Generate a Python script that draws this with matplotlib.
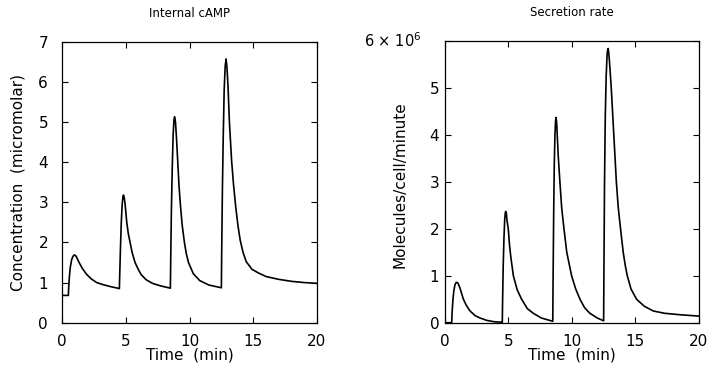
import numpy as np
import matplotlib
matplotlib.use("Agg")
import matplotlib.pyplot as plt

plt.rcParams['font.family'] = ['DejaVu Sans']

# internal cAMP (micromolar)
t_camp = [0, 0.5, 0.52, 0.58, 0.65, 0.75, 0.85, 0.97, 1.1, 1.34, 1.6, 1.94, 2.3, 2.72, 3.2, 3.8, 4.5,
          4.52, 4.58, 4.65, 4.72, 4.78, 4.82, 4.88, 4.95, 5.08, 5.2, 5.34, 5.5, 5.73, 5.95, 6.2, 6.6, 7.1, 7.7, 8.5,
          8.52, 8.58, 8.65, 8.72, 8.78, 8.83, 8.9, 8.98, 9.08, 9.17, 9.27, 9.42, 9.6, 9.75, 9.92, 10.3, 10.8, 11.5, 12.5,
          12.52, 12.58, 12.65, 12.72, 12.8, 12.87, 12.94, 13.02, 13.13, 13.3, 13.45, 13.62, 13.8, 13.98, 14.2, 14.45,
          14.9, 15.4, 16, 17, 18, 19, 20]
camp = [0.68, 0.68, 0.85, 1.15, 1.38, 1.56, 1.65, 1.69, 1.66, 1.5, 1.35, 1.2, 1.09, 1.0, 0.95, 0.9, 0.85,
        1.1, 1.8, 2.5, 2.95, 3.13, 3.18, 3.12, 2.95, 2.5, 2.22, 2.0, 1.75, 1.5, 1.35, 1.2, 1.07, 0.98, 0.92, 0.86,
        1.4, 2.8, 3.9, 4.7, 5.05, 5.13, 5.0, 4.6, 4.0, 3.45, 3.0, 2.45, 2.0, 1.72, 1.5, 1.22, 1.05, 0.94, 0.87,
        1.6, 3.3, 4.7, 5.8, 6.4, 6.57, 6.35, 5.9, 5.0, 4.05, 3.45, 2.9, 2.42, 2.05, 1.75, 1.52,
        1.33, 1.24, 1.15, 1.08, 1.03, 1.0, 0.98]

# secretion rate (x 10^6 molecules/cell/minute)
t_sec = [0, 0.55, 0.58, 0.65, 0.72, 0.8, 0.88, 0.95, 1.05, 1.2, 1.47, 1.7, 1.99, 2.4, 2.78, 3.3, 3.9, 4.53,
         4.55, 4.6, 4.66, 4.72, 4.77, 4.8, 4.85, 4.9, 5.0, 5.1, 5.2, 5.4, 5.7, 6.05, 6.5, 6.97, 7.6, 8.5,
         8.52, 8.57, 8.62, 8.67, 8.72, 8.75, 8.8, 8.86, 8.93, 9.06, 9.2, 9.38, 9.6, 9.98, 10.3, 10.64, 11.0, 11.42, 12.0, 12.5,
         12.52, 12.57, 12.63, 12.7, 12.77, 12.82, 12.86, 12.92, 13.0, 13.1, 13.2, 13.3, 13.4, 13.5, 13.65, 13.83,
         14.04, 14.2, 14.36, 14.65, 15.09, 15.7, 16.4, 17.3, 18.5, 20]
sec = [0, 0, 0.2, 0.5, 0.68, 0.8, 0.85, 0.86, 0.84, 0.74, 0.5, 0.37, 0.25, 0.15, 0.1, 0.05, 0.02, 0.01,
       0.4, 1.2, 1.8, 2.2, 2.35, 2.37, 2.33, 2.18, 2.0, 1.65, 1.4, 1.0, 0.7, 0.5, 0.3, 0.2, 0.1, 0.03,
       0.8, 2.3, 3.4, 4.0, 4.3, 4.37, 4.28, 3.95, 3.55, 3.0, 2.45, 2.0, 1.5, 1.0, 0.72, 0.5, 0.32, 0.2, 0.1, 0.04,
       1.0, 3.0, 4.4, 5.25, 5.7, 5.82, 5.84, 5.7, 5.4, 5.0, 4.5, 4.0, 3.5, 3.0, 2.45, 2.0,
       1.5, 1.22, 1.0, 0.72, 0.5, 0.35, 0.25, 0.2, 0.17, 0.14]

x_ticks = [0, 5, 10, 15, 20]
camp_ticks = [0, 1, 2, 3, 4, 5, 6, 7]
sec_ticks = [0, 1, 2, 3, 4, 5, 6]
sec_labels = ['0', '1', '2', '3', '4', '5', '']

fig = plt.figure(figsize=(7.08, 3.69), dpi=100)
ax1 = fig.add_axes([62 / 708, 1 - 322.7 / 369, 255 / 708, 281 / 369])
ax2 = fig.add_axes([444.7 / 708, 1 - 322.7 / 369, 254.3 / 708, 281.7 / 369])

ax1.plot(t_camp, camp, color='black', lw=1.2)
ax2.plot(t_sec, np.array(sec) * 1e6, color='black', lw=1.2)

for ax in (ax1, ax2):
    ax.set_xlim(0, 20)
    ax.set_xticks(x_ticks)
    ax.tick_params(direction='in', top=True, right=True, length=4, width=0.8, labelsize=11)
    ax.tick_params(axis='x', pad=8)
    ax.set_xlabel('Time  (min)', fontsize=11, labelpad=-1)
    for s in ax.spines.values():
        s.set_linewidth(0.9)

ax1.set_ylim(0, 7)
ax1.set_yticks(camp_ticks)
ax1.tick_params(axis='y', pad=10)
ax1.set_ylabel('Concentration  (micromolar)', fontsize=11, labelpad=9)
ax1.set_title('Internal cAMP', fontsize=8.5, pad=18)

ax2.set_ylim(0, 6e6)
ax2.set_yticks([v * 1e6 for v in sec_ticks])
ax2.set_yticklabels(sec_labels)
ax2.tick_params(axis='y', pad=4)
ax2.text(-0.09, 6e6, r'6 $\times$ 10$^6$', transform=ax2.get_yaxis_transform(),
         ha='right', va='center', fontsize=10.5)
ax2.set_ylabel('Molecules/cell/minute', fontsize=11)
ax2.yaxis.set_label_coords(-0.148, 0.49)
ax2.set_title('Secretion rate', fontsize=8.5, pad=18)

fig.savefig('out.png', dpi=100)
